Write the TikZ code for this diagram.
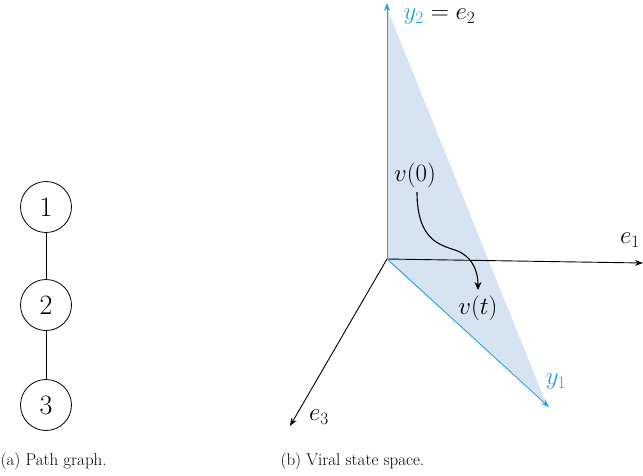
\documentclass[tikz,border=0pt]{standalone}
\usetikzlibrary{arrows.meta}
\definecolor{axblue}{RGB}{30,160,225}
\definecolor{planefill}{RGB}{214,228,242}
\begin{document}
\begin{tikzpicture}[x=1pt,y=-1pt,
  vert/.style={draw,circle,line width=0.8pt,minimum size=51pt,inner sep=0pt,font=\fontsize{28}{30}\selectfont},
  axis/.style={-{Stealth[length=8pt,width=6pt]},line width=0.9pt},
  lbl/.style={font=\fontsize{24}{28}\selectfont},
  captxt/.style={font=\fontsize{17}{20}\selectfont,anchor=west}]
\useasboundingbox (0,0) rectangle (643,475);
% (a) path graph
\node[vert] (n1) at (46,207) {1};
\node[vert] (n2) at (46,305) {2};
\node[vert] (n3) at (46,405) {3};
\draw[line width=0.8pt] (n1) -- (n2);
\draw[line width=0.8pt] (n2) -- (n3);
\node[captxt] (capa) at (-3,461) {(a) Path graph.};
% (b) state space
\coordinate (O) at (387,259);
\coordinate (Y2) at (387,3);
\coordinate (Y1) at (549,407);
\coordinate (E1) at (643,263);
\coordinate (E3) at (290,426);
\fill[planefill] (O) -- (387,8) -- (546,403) -- cycle;
\draw[axis] (O) -- (E1);
\draw[axis] (O) -- (E3);
\draw[axis,axblue] (O) -- (Y2);
\draw[axis,axblue] (O) -- (Y1);
\node[lbl,anchor=west] (ly2) at (400,17) {$\color{axblue}y_2\color{black} = e_2$};
\node[lbl] (le1) at (630,240) {$e_1$};
\node[lbl] (le3) at (319,417) {$e_3$};
\node[lbl,text=axblue] (ly1) at (556,382) {$y_1$};
\node[lbl] (v0) at (415,175) {$v(0)$};
\node[lbl] (vt) at (478,308) {$v(t)$};
\draw[-{Stealth[length=8pt,width=7pt]},line width=1.1pt] (417,192) .. controls (417,240) and (440,245) .. (455,250) .. controls (470,255) and (478,268) .. (478,290);
\node[captxt] (capb) at (277,461) {(b) Viral state space.};
\end{tikzpicture}
\end{document}
